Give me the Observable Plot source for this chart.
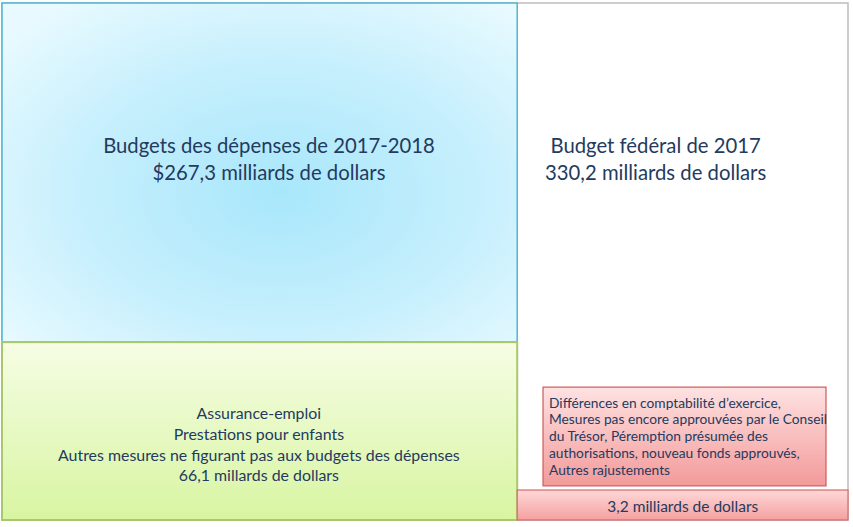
<!DOCTYPE html>
<html><head><meta charset="utf-8">
<script src="https://cdn.jsdelivr.net/npm/d3@7"></script>
<script src="https://cdn.jsdelivr.net/npm/@observablehq/plot@0.6"></script>
<style>html,body{margin:0;padding:0;background:#fff;overflow:hidden}</style>
</head><body><div id="chart"></div>
<script>
// ---- data ----
const amounts = [267.3, 66.1, 330.2, 3.2];
const titles = [
  "Budgets des dépenses de 2017-2018\n$267,3 milliards de dollars",
  "Assurance-emploi\nPrestations pour enfants\nAutres mesures ne figurant pas aux budgets des dépenses\n66,1 millards de dollars",
  "Budget fédéral de 2017\n330,2 milliards de dollars",
  "3,2 milliards de dollars"
];
const calloutText = "Différences en comptabilité d’exercice,\nMesures pas encore approuvées par le Conseil\ndu Trésor, Péremption présumée des\nauthorisations, nouveau fonds approuvés,\nAutres rajustements";

// ---- layout (percent of frame) ----
const boxes = [
  {id: "frame",   x1: 0,     x2: 100,   y1: 0,     y2: 100},
  {id: "blue",    x1: 0,     x2: 60.9,  y1: 0,     y2: 65.6},
  {id: "green",   x1: 0,     x2: 60.9,  y1: 65.6,  y2: 100},
  {id: "redbar",  x1: 60.9,  x2: 100,   y1: 94.2,  y2: 100},
  {id: "callout", x1: 63.95, x2: 97.4,  y1: 74.3,  y2: 93.4}
];
const labelPos = [
  {x: 31.5, y: 29.9, size: 20.3, lh: 1.33},
  {x: 30.3, y: 85.1, size: 15.9, lh: 1.31},
  {x: 77.2, y: 29.9, size: 20.3, lh: 1.33},
  {x: 80.4, y: 97.2, size: 15.5, lh: 1.2}
];
const labels = titles.map((t, i) => ({text: t, amount: amounts[i], ...labelPos[i]}));

const ink = "#243a5e";
const font = "Lato, 'Open Sans', sans-serif";
const box = id => boxes.filter(b => b.id === id);
const rect = (id, fill, stroke, sw) => Plot.rect(box(id), {
  x1: "x1", x2: "x2", y1: "y1", y2: "y2", fill, stroke, strokeWidth: sw, ariaLabel: id
});

const chart = Plot.plot({
  width: 853, height: 527,
  margin: 0,
  style: {fontFamily: font, background: "transparent"},
  x: {domain: [0, 100], range: [2, 848], axis: null},
  y: {domain: [0, 100], range: [3, 520], axis: null},
  marks: [
    rect("frame", "#ffffff", "#bdbdbd", 1.5),
    rect("blue", "url(#gBlue)", "#4db6cf", 1.5),
    rect("green", "url(#gGreen)", "#a9c86c", 2),
    rect("redbar", "url(#gRedBar)", "#d96a6a", 1.2),
    rect("callout", "url(#gCallout)", "#d05a5a", 1.2),
    ...labels.map(l => Plot.text([l], {
      x: "x", y: "y", text: "text", fill: ink, fontSize: l.size,
      lineHeight: l.lh, textAnchor: "middle", lineAnchor: "middle"
    })),
    Plot.text([calloutText], {
      x: 64.6, y: 83.6, text: d => d, fill: ink, fontSize: 13.75,
      lineHeight: 1.22, textAnchor: "start", lineAnchor: "middle"
    })
  ]
});

const svg = d3.select(chart);
const defs = svg.insert("defs", ":first-child");
const rg = defs.append("radialGradient").attr("id", "gBlue")
  .attr("cx", "0.54").attr("cy", "0.56").attr("r", "0.7");
rg.append("stop").attr("offset", "0").attr("stop-color", "#a8e7fb");
rg.append("stop").attr("offset", "0.55").attr("stop-color", "#c6effd");
rg.append("stop").attr("offset", "1").attr("stop-color", "#e8faff");
function lin(id, c0, c1) {
  const g = defs.append("linearGradient").attr("id", id)
    .attr("x1", 0).attr("y1", 0).attr("x2", 0).attr("y2", 1);
  g.append("stop").attr("offset", "0").attr("stop-color", c0);
  g.append("stop").attr("offset", "1").attr("stop-color", c1);
}
lin("gGreen", "#f6fde4", "#d8f5a2");
lin("gRedBar", "#ffd8d8", "#f5a0a0");
lin("gCallout", "#ffe2e2", "#f39a9a");
const f = defs.append("filter").attr("id", "shadow").attr("x", "-5%").attr("y", "-5%").attr("width", "115%").attr("height", "115%");
f.append("feDropShadow").attr("dx", 2).attr("dy", 2).attr("stdDeviation", 1.5)
  .attr("flood-color", "#000").attr("flood-opacity", 0.35);
svg.selectAll("g[aria-label=frame], g[aria-label=callout], g[aria-label=green]").attr("filter", "url(#shadow)");

document.getElementById("chart").appendChild(chart);
</script>
</body></html>
